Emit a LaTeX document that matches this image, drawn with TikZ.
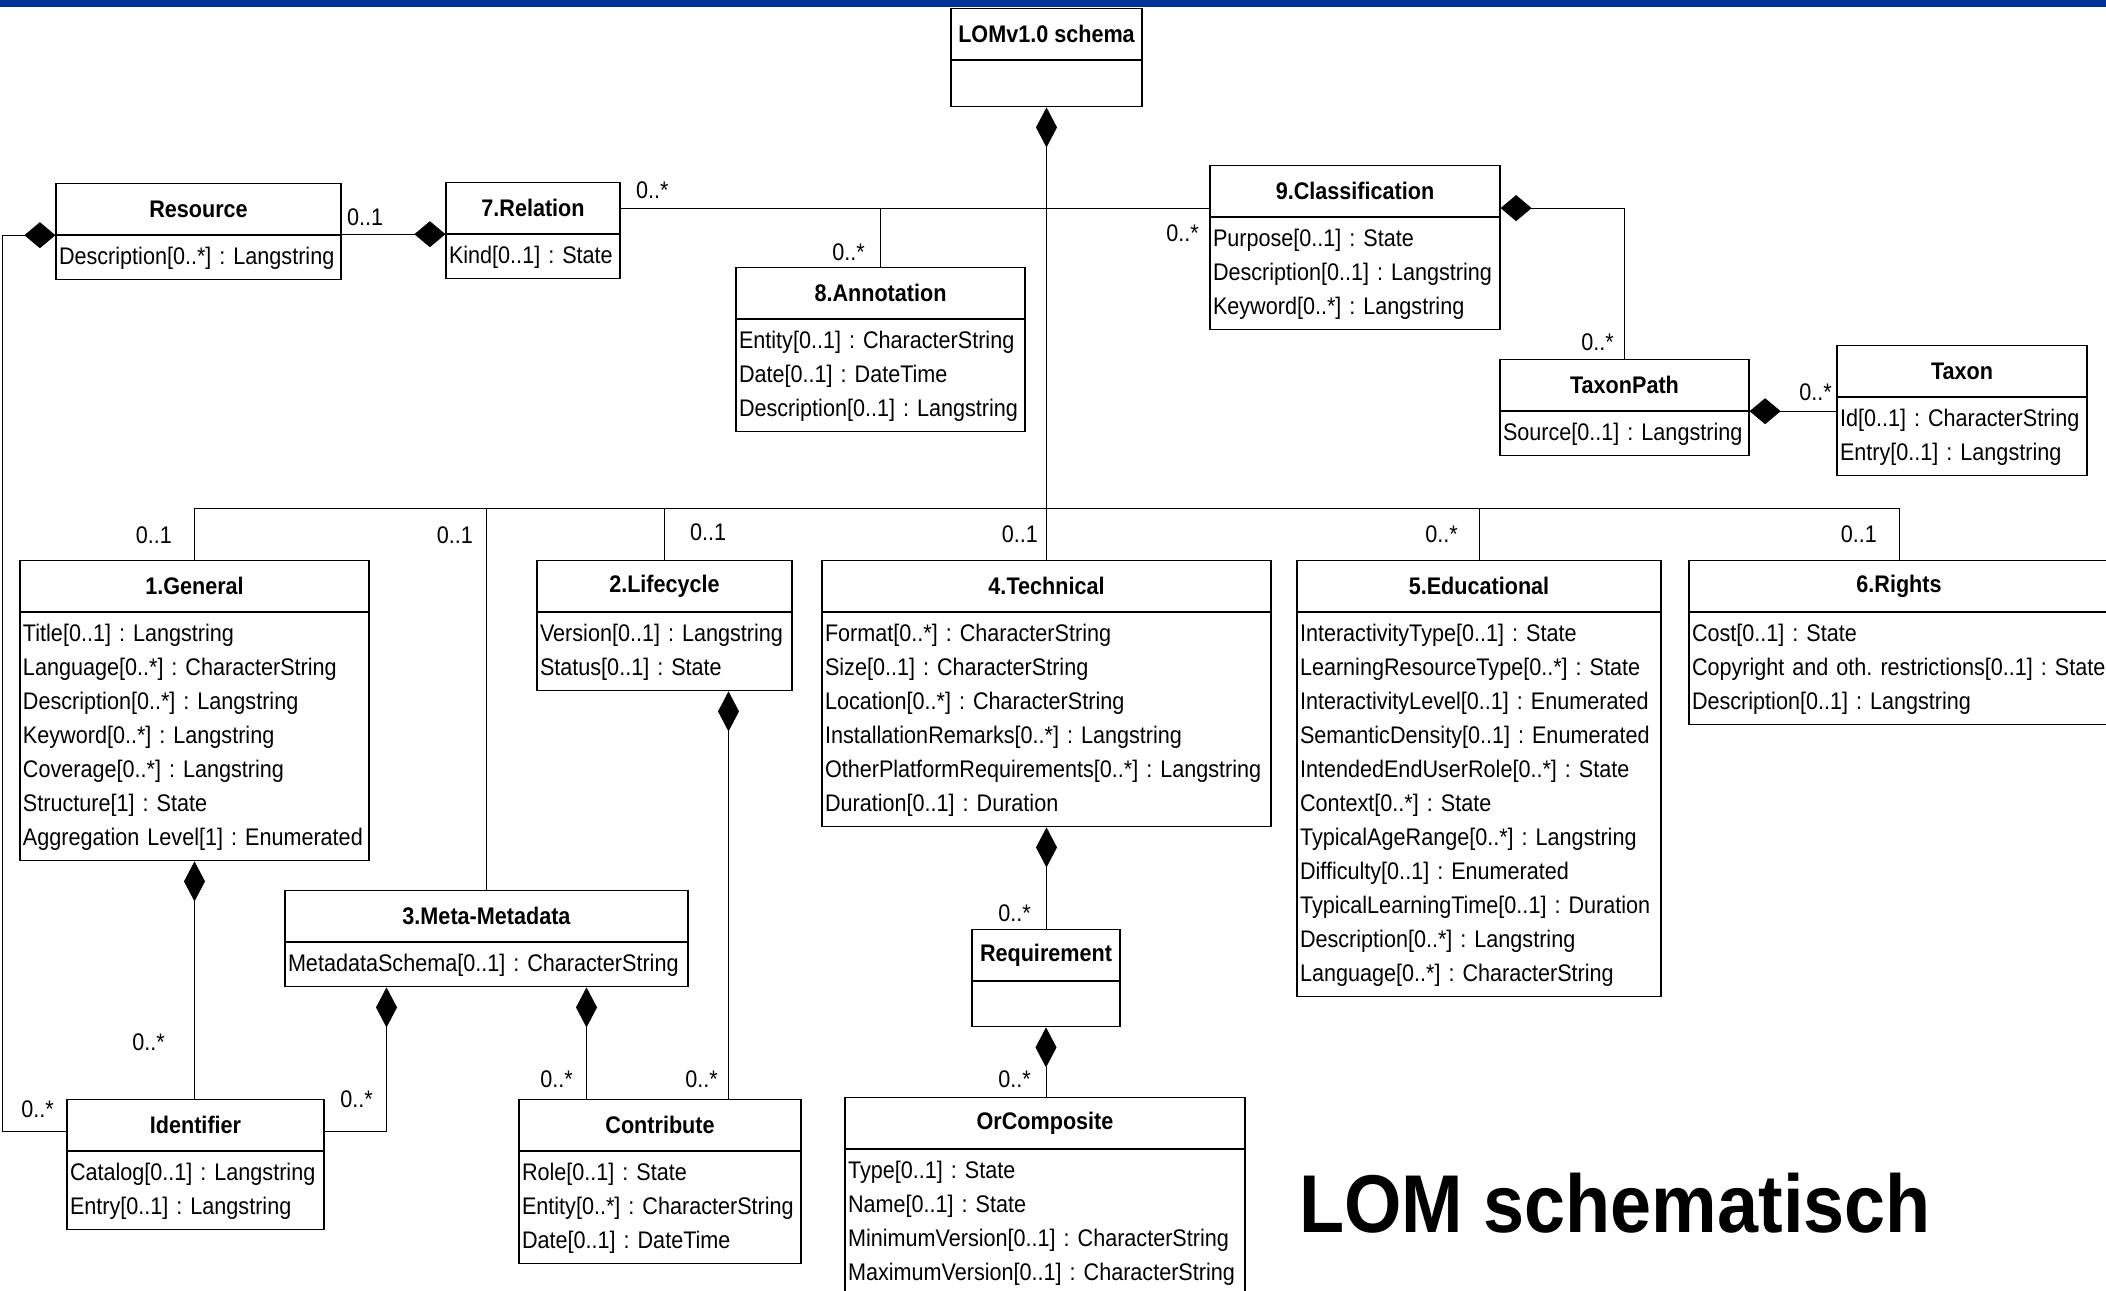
\documentclass[tikz,border=0pt]{standalone}
\usepackage{fontspec}
\setmainfont{Liberation Sans}[FakeStretch=0.9]
\usetikzlibrary{arrows.meta}
\definecolor{barblue}{RGB}{0,51,153}
\frenchspacing
\newcommand\attrfont{\fontsize{24}{34}\selectfont}
\newcommand\titlefont{\fontsize{24}{34}\selectfont\bfseries}
\newcommand\attrlist[1]{\begin{tabular}{@{}l@{}}#1\end{tabular}}
\tikzset{
  umltitle/.style={draw, line width=1.2pt, inner sep=0pt, minimum height=51pt, anchor=north, font=\titlefont},
  umlattr/.style={draw, line width=1.2pt, inner xsep=3pt, inner ysep=0pt, anchor=north, align=left, font=\attrfont},
  link/.style={line width=0.8pt},
  compv/.style={{Diamond[length=40pt,width=21pt]}-},
  comph/.style={{Diamond[length=31pt,width=26pt]}-},
  mult/.style={inner sep=0pt, font=\attrfont},
}

\begin{document}
\begin{tikzpicture}[x=1pt,y=-1pt]
  \useasboundingbox (0,0) rectangle (2106,1290);
  \clip (0,0) rectangle (2106,1290);
  \fill[barblue] (0,0) rectangle (2106,7); % top bar

  % classes
  \node[umltitle, minimum width=191pt] (schema) at (1046.5,8) {LOMv1.0 schema};
  \node[umlattr, minimum width=191pt, minimum height=46pt] (schema-a) at (schema.south) {};

  \node[umltitle, minimum width=285pt] (res) at (198.5,183) {Resource};
  \node[umlattr, text width=279pt, minimum height=44pt] (res-a) at (res.south) {\attrlist{Description[0..*] : Langstring}};

  \node[umltitle, minimum width=174pt] (rel) at (533,182) {7.Relation};
  \node[umlattr, text width=168pt, minimum height=44pt] (rel-a) at (rel.south) {\attrlist{Kind[0..1] : State}};

  \node[umltitle, minimum width=289pt] (annot) at (880.5,267) {8.Annotation};
  \node[umlattr, text width=283pt, minimum height=112pt] (annot-a) at (annot.south) {\attrlist{Entity[0..1] : CharacterString\\Date[0..1] : DateTime\\Description[0..1] : Langstring}};

  \node[umltitle, minimum width=290pt] (clas) at (1355,165) {9.Classification};
  \node[umlattr, text width=284pt, minimum height=112pt] (clas-a) at (clas.south) {\attrlist{Purpose[0..1] : State\\Description[0..1] : Langstring\\Keyword[0..*] : Langstring}};

  \node[umltitle, minimum width=249pt] (tpath) at (1624.5,359) {TaxonPath};
  \node[umlattr, text width=243pt, minimum height=44pt] (tpath-a) at (tpath.south) {\attrlist{Source[0..1] : Langstring}};

  \node[umltitle, minimum width=250pt] (taxon) at (1962,345) {Taxon};
  \node[umlattr, text width=244pt, minimum height=78pt] (taxon-a) at (taxon.south) {\attrlist{Id[0..1] : CharacterString\\Entry[0..1] : Langstring}};

  \node[umltitle, minimum width=349pt] (gen) at (194.5,560) {1.General};
  \node[umlattr, text width=343pt, minimum height=248pt] (gen-a) at (gen.south) {\attrlist{Title[0..1] : Langstring\\Language[0..*] : CharacterString\\Description[0..*] : Langstring\\Keyword[0..*] : Langstring\\Coverage[0..*] : Langstring\\Structure[1] : State\\Aggregation Level[1] : Enumerated}};

  \node[umltitle, minimum width=255pt] (life) at (664.5,560) {2.Lifecycle};
  \node[umlattr, text width=249pt, minimum height=78pt] (life-a) at (life.south) {\attrlist{Version[0..1] : Langstring\\Status[0..1] : State}};

  \node[umltitle, minimum width=449pt] (tech) at (1046.5,560) {4.Technical};
  \node[umlattr, text width=443pt, minimum height=214pt] (tech-a) at (tech.south) {\attrlist{Format[0..*] : CharacterString\\Size[0..1] : CharacterString\\Location[0..*] : CharacterString\\InstallationRemarks[0..*] : Langstring\\OtherPlatformRequirements[0..*] : Langstring\\Duration[0..1] : Duration}};

  \node[umltitle, minimum width=364pt] (edu) at (1479,560) {5.Educational};
  \node[umlattr, text width=358pt, minimum height=384pt] (edu-a) at (edu.south) {\attrlist{InteractivityType[0..1] : State\\LearningResourceType[0..*] : State\\InteractivityLevel[0..1] : Enumerated\\SemanticDensity[0..1] : Enumerated\\IntendedEndUserRole[0..*] : State\\Context[0..*] : State\\TypicalAgeRange[0..*] : Langstring\\Difficulty[0..1] : Enumerated\\TypicalLearningTime[0..1] : Duration\\Description[0..*] : Langstring\\Language[0..*] : CharacterString}};

  \node[umltitle, minimum width=420pt] (rights) at (1899,560) {6.Rights};
  \node[umlattr, text width=414pt, minimum height=112pt] (rights-a) at (rights.south) {\attrlist{Cost[0..1] : State\\Copyright and oth. restrictions[0..1] : State\\Description[0..1] : Langstring}};

  \node[umltitle, minimum width=403pt] (meta) at (486.5,890) {3.Meta-Metadata};
  \node[umlattr, text width=397pt, minimum height=44pt] (meta-a) at (meta.south) {\attrlist{MetadataSchema[0..1] : CharacterString}};

  \node[umltitle, minimum width=257pt] (ident) at (195.5,1099) {Identifier};
  \node[umlattr, text width=251pt, minimum height=78pt] (ident-a) at (ident.south) {\attrlist{Catalog[0..1] : Langstring\\Entry[0..1] : Langstring}};

  \node[umltitle, minimum width=282pt] (contrib) at (660,1099) {Contribute};
  \node[umlattr, text width=276pt, minimum height=112pt] (contrib-a) at (contrib.south) {\attrlist{Role[0..1] : State\\Entity[0..*] : CharacterString\\Date[0..1] : DateTime}};

  \node[umltitle, minimum width=148pt] (req) at (1046,929) {Requirement};
  \node[umlattr, minimum width=148pt, minimum height=45pt] (req-a) at (req.south) {};

  \node[umltitle, minimum width=400pt] (orc) at (1045,1097) {OrComposite};
  \node[umlattr, text width=394pt, minimum height=146pt] (orc-a) at (orc.south) {\attrlist{Type[0..1] : State\\Name[0..1] : State\\MinimumVersion[0..1] : CharacterString\\MaximumVersion[0..1] : CharacterString}};

  % connectors
  \coordinate (bus) at (0,508);
  \coordinate (lx) at (2,0);
  \draw[link, compv] (schema-a.south) -- (schema-a.south |- tech.north); % schema to technical
  \draw[link] (gen.north) |- (bus -| rights.north) -- (rights.north); % category bus
  \draw[link] (meta.north) -- (meta.north |- bus);
  \draw[link] (life.north) -- (life.north |- bus);
  \draw[link] (edu.north) -- (edu.north |- bus);
  \draw[link] (rel.east) -- (rel.east -| clas.west); % relation to classification
  \draw[link] (annot.north) -- (annot.north |- rel.east);
  \draw[link, comph] (clas.east |- rel.east) -| (tpath.north);
  \draw[link, comph] (tpath-a.north east) -- (tpath-a.north east -| taxon-a.west);
  \draw[link, comph] (rel-a.north west) -- (rel-a.north west -| res.east);
  \draw[link, comph] (res-a.north west) -- (res-a.north west -| lx) |- ([yshift=-6pt]ident.west);
  \draw[link, compv] (gen-a.south) -- (gen-a.south |- ident.north);
  \draw[link, compv] ([xshift=-100pt]meta-a.south) |- ([yshift=-6pt]ident.east);
  \draw[link, compv] ([xshift=100pt]meta-a.south) -- ([xshift=100pt]meta-a.south |- contrib.north);
  \draw[link, compv] ([xshift=64pt]life-a.south) -- ([xshift=64pt]life-a.south |- contrib.north);
  \draw[link, compv] (tech-a.south) -- (tech-a.south |- req.north);
  \draw[link, compv] (req-a.south) -- (req-a.south |- orc.north);

  % multiplicities
  \node[mult, anchor=south west] (m-resrel) at (347,226) {0..1};
  \node[mult, anchor=south west] (m-relout) at (636,199) {0..*};
  \node[mult, anchor=south east] (m-annot) at (865,261) {0..*};
  \node[mult, anchor=south east] (m-clas) at (1199,242) {0..*};
  \node[mult, anchor=south east] (m-tpath) at (1614,351) {0..*};
  \node[mult, anchor=south east] (m-taxon) at (1832,401) {0..*};
  \node[mult, anchor=south east] (m-gen) at (172,544) {0..1};
  \node[mult, anchor=south east] (m-meta) at (473,544) {0..1};
  \node[mult, anchor=south west] (m-life) at (690,541) {0..1};
  \node[mult, anchor=south east] (m-tech) at (1038,543) {0..1};
  \node[mult, anchor=south east] (m-edu) at (1458,543) {0..*};
  \node[mult, anchor=south east] (m-rights) at (1877,543) {0..1};
  \node[mult, anchor=south east] (m-genid) at (165,1051) {0..*};
  \node[mult, anchor=south east] (m-resid) at (54,1118) {0..*};
  \node[mult, anchor=south east] (m-metaid) at (373,1108) {0..*};
  \node[mult, anchor=south east] (m-metacon) at (573,1088) {0..*};
  \node[mult, anchor=south east] (m-lifecon) at (718,1088) {0..*};
  \node[mult, anchor=south east] (m-techreq) at (1031,922) {0..*};
  \node[mult, anchor=south east] (m-reqorc) at (1031,1088) {0..*};

  \node[anchor=base west, inner sep=0pt, font=\fontsize{82}{90}\selectfont\bfseries] (caption) at (1299,1232) {LOM schematisch};
\end{tikzpicture}
\end{document}
